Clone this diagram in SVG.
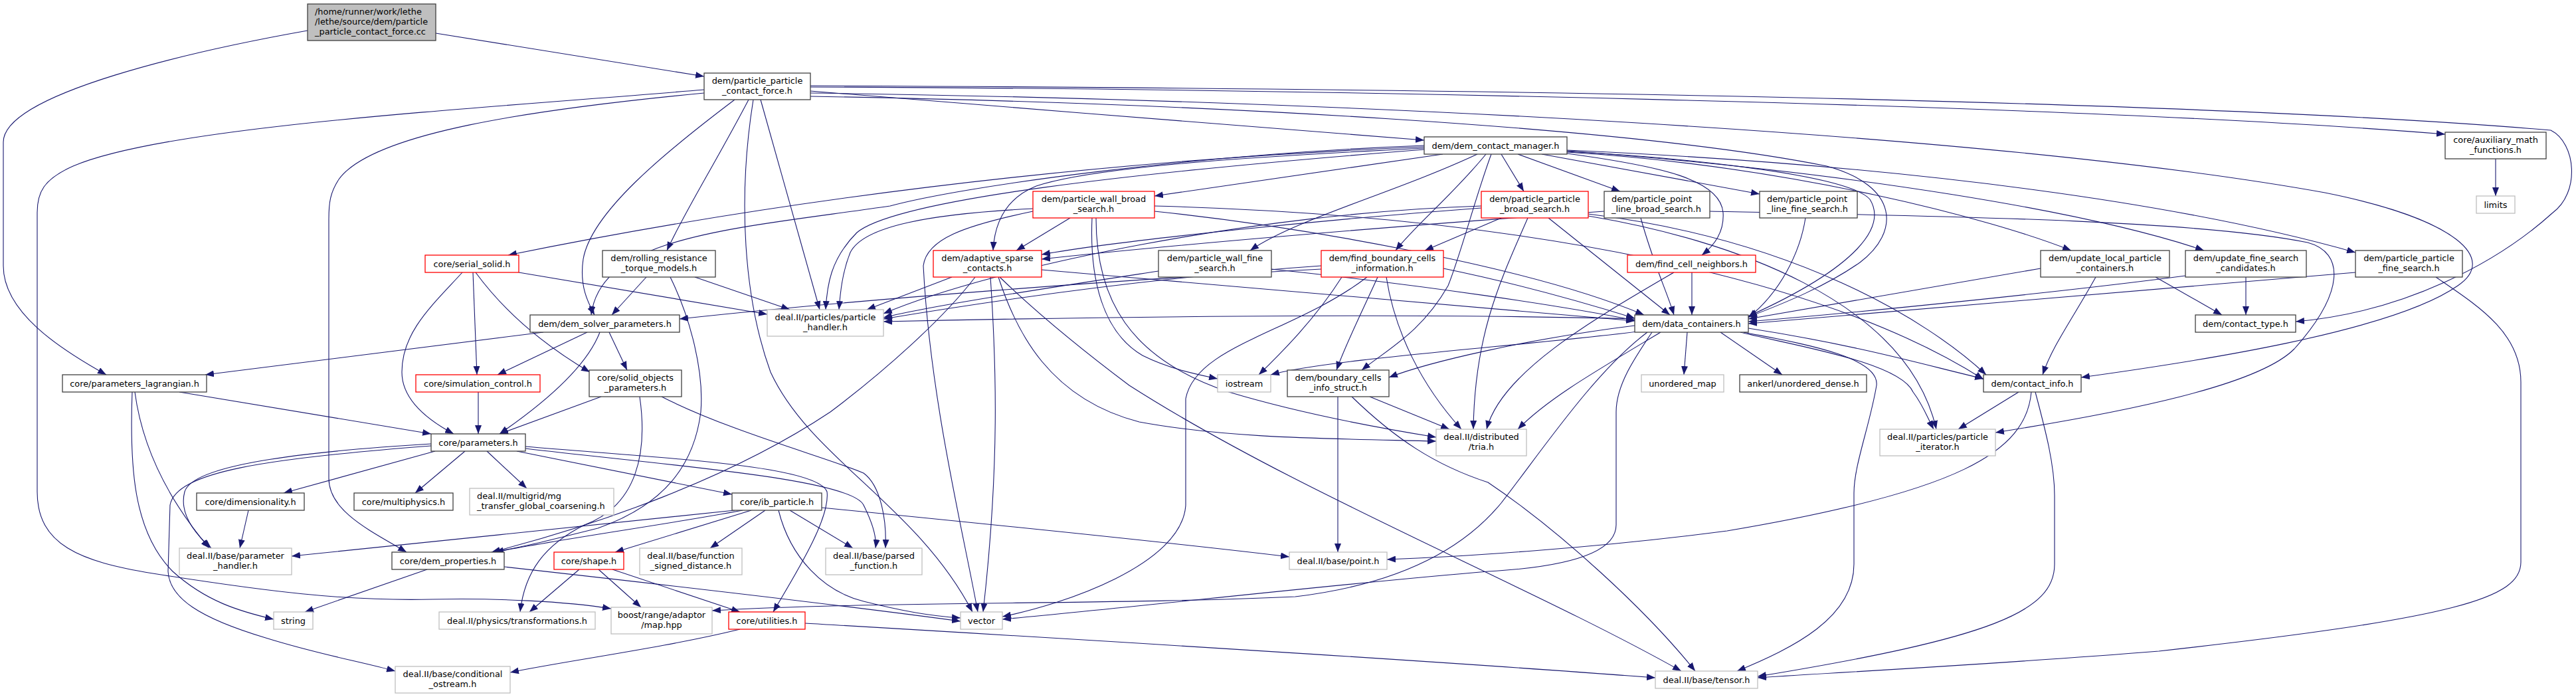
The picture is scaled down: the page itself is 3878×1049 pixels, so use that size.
<svg xmlns="http://www.w3.org/2000/svg" width="3878" height="1049" viewBox="0 0 3878 1049">
<style>
.nd rect{fill:#fff;stroke:#404040;stroke-width:1.3}
.nd.r rect{stroke:#ff0000}
.nd.g rect{stroke:#bfbfbf}
.nd.root rect{fill:#bfbfbf}
text{font-family:"DejaVu Sans","Liberation Sans",sans-serif;font-size:12.9px;fill:#000}
.c{text-anchor:middle}
#edges path{fill:none;stroke:#191970;stroke-width:1.1;marker-end:url(#a)}
</style>
<defs>
<marker id="a" markerWidth="13" markerHeight="10" refX="13" refY="5" orient="auto" markerUnits="userSpaceOnUse"><path d="M0,0 L13,5 L0,10 z" fill="#191970"/></marker>
</defs>
<rect width="3878" height="1049" fill="#fff"/>
<g id="edges">
<path d="M656,50 L1060,115"/>
<path d="M463,46 C300,75 5,140 5,214 L5,400 C5,470 90,525 160,564"/>
<path d="M1220,137 C1500,160 1900,192 2144,211"/>
<path d="M1220,131 C1900,133 3100,155 3681,202"/>
<path d="M1220,129 C2200,133 3300,150 3840,196 C3878,215 3885,290 3842,321 C3760,395 3620,470 3456,484"/>
<path d="M1220,140 C2000,150 3000,200 3500,290 C3700,330 3760,390 3700,430 C3600,500 3300,545 3133,568"/>
<path d="M1220,145 C1800,155 2450,190 2750,250 C2860,280 2860,350 2800,395 C2750,430 2690,455 2632,477"/>
<path d="M1106,150 C1000,230 890,320 878,390 C872,430 885,455 895,474"/>
<path d="M1127,150 C1080,240 1030,320 1004,377"/>
<path d="M1134,150 C1110,300 1120,450 1160,560 C1220,690 1380,760 1464,921"/>
<path d="M1145,150 L1234,466"/>
<path d="M1060,135 C700,165 250,190 110,250 C65,270 56,290 56,320 L56,740 C56,820 120,845 230,863 C400,890 520,905 650,902 C750,900 850,905 920,916"/>
<path d="M1060,140 C800,165 560,200 510,270 C497,290 495,305 495,330 L495,720 C495,770 560,800 612,831"/>
<path d="M2144,221 C1800,235 1300,275 765,384"/>
<path d="M2144,223 C1900,235 1650,250 1560,280 C1510,300 1497,340 1495,377"/>
<path d="M2144,219 C1800,232 1450,280 1340,310 C1100,345 905,355 890,474"/>
<path d="M2172,232 L1738,295"/>
<path d="M2224,232 C2100,290 1950,330 1882,377"/>
<path d="M2237,232 C2190,290 2130,340 2101,377"/>
<path d="M2245,232 C2220,300 2200,380 2180,430 C2140,500 2090,525 2050,557"/>
<path d="M2260,232 L2294,288"/>
<path d="M2285,232 L2439,288"/>
<path d="M2321,232 L2649,292"/>
<path d="M2359,231 C2500,250 2590,270 2594,320 C2596,350 2580,370 2562,384"/>
<path d="M2359,228 C2500,235 2780,260 2815,300 C2840,340 2800,400 2632,476"/>
<path d="M2359,229 C2700,250 3000,330 3118,377"/>
<path d="M2359,227 C2800,260 3150,320 3318,377"/>
<path d="M2359,226 C2900,250 3300,310 3546,380"/>
<path d="M2144,225 C1700,260 1350,300 1290,350 C1250,390 1245,430 1243,466"/>
<path d="M712,410 L718,564"/>
<path d="M716,410 C760,470 820,520 888,560"/>
<path d="M696,410 C650,460 605,500 605,560 C605,600 640,630 683,653"/>
<path d="M781,410 L1155,473"/>
<path d="M973,417 L921,474"/>
<path d="M1046,417 L1189,466"/>
<path d="M1009,417 C1040,480 1060,560 1055,620 C1045,700 1000,760 900,795 C820,815 780,825 740,831"/>
<path d="M818,500 L309,564"/>
<path d="M884,500 L749,564"/>
<path d="M903,500 C880,560 800,620 752,653"/>
<path d="M917,500 L944,557"/>
<path d="M270,590 L649,653"/>
<path d="M203,590 C215,680 260,760 315,825"/>
<path d="M199,590 C195,700 200,800 260,860 C310,905 360,920 412,932"/>
<path d="M720,590 L720,653"/>
<path d="M905,597 L752,653"/>
<path d="M996,597 C1100,650 1250,690 1300,712 C1325,730 1335,780 1333,825"/>
<path d="M963,597 C975,680 960,760 880,790 C820,820 790,860 783,921"/>
<path d="M655,679 L427,742"/>
<path d="M700,679 L625,742"/>
<path d="M733,679 L793,735"/>
<path d="M778,679 L1102,744"/>
<path d="M649,668 C450,680 290,700 278,740 C270,770 290,800 318,825"/>
<path d="M649,671 C400,690 265,710 256,760 L253,860 C255,900 300,930 400,960 C480,985 540,995 595,1010"/>
<path d="M791,672 C1000,690 1230,700 1245,740 C1250,780 1200,860 1164,921"/>
<path d="M791,675 C1000,700 1280,720 1300,760 C1315,790 1320,810 1318,825"/>
<path d="M374,768 L361,825"/>
<path d="M1131,768 L926,831"/>
<path d="M1152,768 L1069,825"/>
<path d="M1189,768 L1284,825"/>
<path d="M1237,764 C1500,790 1750,815 1941,838"/>
<path d="M1172,768 C1190,840 1240,890 1300,905 C1360,920 1400,927 1446,930"/>
<path d="M1118,768 C1000,790 850,810 745,831"/>
<path d="M1106,768 C900,790 650,815 439,837"/>
<path d="M872,857 L797,921"/>
<path d="M901,857 L965,914"/>
<path d="M922,857 L1114,921"/>
<path d="M643,857 L459,921"/>
<path d="M759,853 C1000,880 1300,915 1446,935"/>
<path d="M1114,947 C1000,975 850,995 768,1012"/>
<path d="M1212,938 C1500,955 2100,990 2492,1020"/>
<path d="M2062,597 L2182,646"/>
<path d="M2014,597 L2014,831"/>
<path d="M2035,597 C2100,660 2160,700 2240,726 C2350,800 2480,920 2552,1010"/>
<path d="M2461,490 C2300,510 2150,545 2091,568"/>
<path d="M2465,499 C2300,520 2000,540 1913,564"/>
<path d="M2540,500 L2535,564"/>
<path d="M2590,500 L2683,564"/>
<path d="M2632,494 C2800,520 2900,550 2986,570"/>
<path d="M2620,500 C2700,520 2860,545 2880,590 C2895,610 2900,625 2911,646"/>
<path d="M2500,500 C2400,560 2330,600 2285,646"/>
<path d="M2625,500 C2700,515 2830,535 2825,580 C2815,640 2791,700 2791,742 L2791,849 C2791,930 2700,975 2615,1010"/>
<path d="M2487,500 C2460,540 2433,580 2433,620 L2433,790 C2433,840 2330,855 2240,860 C2000,880 1700,915 1509,932"/>
<path d="M2480,500 C2400,560 2320,680 2260,757 C2200,830 2100,880 1950,898 C1700,910 1300,905 1072,919"/>
<path d="M2461,480 C2100,470 1600,478 1330,484"/>
<path d="M3039,590 L2948,646"/>
<path d="M3058,590 C3050,680 2950,740 2600,799 C2400,825 2200,838 2088,842"/>
<path d="M3064,590 C3080,650 3093,700 3093,746 L3093,849 C3093,920 3000,960 2646,1018"/>
<path d="M1433,417 L1305,466"/>
<path d="M1468,417 C1420,480 1330,560 1250,620 C1100,720 900,790 740,831"/>
<path d="M1491,417 C1500,550 1505,700 1480,921"/>
<path d="M1503,417 C1530,500 1580,600 1715,635 C1850,660 2000,660 2162,664"/>
<path d="M1505,417 C1560,470 1620,520 1700,580 C1950,740 2300,880 2531,1010"/>
<path d="M1568,406 C1900,435 2250,465 2461,483"/>
<path d="M1611,328 L1530,377"/>
<path d="M1555,314 C1400,322 1300,340 1280,380 C1268,410 1265,440 1263,466"/>
<path d="M1738,318 C1950,340 2300,400 2475,474"/>
<path d="M1738,310 C2300,325 2750,420 2986,571"/>
<path d="M1555,318 C1450,340 1395,360 1390,400 C1400,600 1450,800 1472,921"/>
<path d="M1644,328 C1640,420 1660,500 1720,535 C1760,555 1800,563 1833,570"/>
<path d="M1650,328 C1650,450 1700,540 1850,590 C1950,620 2050,640 2162,658"/>
<path d="M1744,408 C1600,430 1400,460 1330,478"/>
<path d="M1914,405 C2150,430 2350,460 2461,482"/>
<path d="M2074,417 C2050,470 2025,520 2012,557"/>
<path d="M2087,417 C2100,500 2140,580 2200,646"/>
<path d="M2058,417 C1950,500 1800,520 1785,600 L1785,760 C1780,850 1600,910 1509,928"/>
<path d="M2173,404 C2300,430 2400,460 2461,479"/>
<path d="M2020,417 C1980,480 1930,530 1895,564"/>
<path d="M1989,400 C1700,420 1450,460 1330,480"/>
<path d="M1989,405 C1700,420 1300,450 1023,480"/>
<path d="M2260,328 L2145,377"/>
<path d="M2331,328 L2514,474"/>
<path d="M2230,313 C2000,330 1700,360 1568,383"/>
<path d="M2230,310 C1900,320 1500,400 1330,472"/>
<path d="M2300,328 C2260,420 2220,500 2218,646"/>
<path d="M2391,322 C2700,360 2900,480 2990,564"/>
<path d="M2391,325 C2600,360 2870,450 2915,646"/>
<path d="M2415,318 C2100,340 1750,370 1568,390"/>
<path d="M2470,328 C2490,400 2510,440 2520,474"/>
<path d="M2574,318 C2900,325 3300,330 3474,365 C3530,380 3530,440 3454,525 C3400,580 3200,620 3004,651"/>
<path d="M2718,328 C2710,380 2680,440 2632,478"/>
<path d="M2547,410 L2547,474"/>
<path d="M2520,410 C2400,480 2260,560 2238,646"/>
<path d="M3072,404 L2632,480"/>
<path d="M3245,417 L3345,474"/>
<path d="M3155,417 C3120,480 3090,520 3075,564"/>
<path d="M3381,417 L3381,474"/>
<path d="M3290,415 C3100,440 2800,470 2632,484"/>
<path d="M3546,410 C3300,430 2900,465 2632,487"/>
<path d="M3667,417 C3730,460 3795,500 3795,575 L3795,846 C3795,900 3700,930 3250,980 C3000,1000 2800,1010 2646,1020"/>
<path d="M3757,239 L3757,295"/>
</g>
<g id="n-root" class="nd root"><rect x="463" y="6" width="193" height="55"/><text x="474" y="22">/home/runner/work/lethe</text><text x="474" y="37">/lethe/source/dem/particle</text><text x="474" y="52">_particle_contact_force.cc</text></g>
<g id="n-ppcf" class="nd"><rect x="1060" y="110" width="160" height="40"/><text class="c" x="1140" y="126">dem/particle_particle</text><text class="c" x="1140" y="141">_contact_force.h</text></g>
<g id="n-dcm" class="nd"><rect x="2144" y="206" width="215" height="26"/><text class="c" x="2251.5" y="223.5">dem/dem_contact_manager.h</text></g>
<g id="n-aux" class="nd"><rect x="3681" y="199" width="152" height="40"/><text class="c" x="3757" y="215">core/auxiliary_math</text><text class="c" x="3757" y="230">_functions.h</text></g>
<g id="n-pwbs" class="nd r"><rect x="1555" y="288" width="183" height="40"/><text class="c" x="1646.5" y="304">dem/particle_wall_broad</text><text class="c" x="1646.5" y="319">_search.h</text></g>
<g id="n-ppbs" class="nd r"><rect x="2230" y="288" width="161" height="40"/><text class="c" x="2310.5" y="304">dem/particle_particle</text><text class="c" x="2310.5" y="319">_broad_search.h</text></g>
<g id="n-pplbs" class="nd"><rect x="2415" y="288" width="159" height="40"/><text x="2426" y="304">dem/particle_point</text><text x="2426" y="319">_line_broad_search.h</text></g>
<g id="n-pplfs" class="nd"><rect x="2649" y="288" width="147" height="40"/><text x="2660" y="304">dem/particle_point</text><text x="2660" y="319">_line_fine_search.h</text></g>
<g id="n-limits" class="nd g"><rect x="3728" y="295" width="58" height="26"/><text class="c" x="3757" y="312.5">limits</text></g>
<g id="n-serial" class="nd r"><rect x="640" y="384" width="141" height="26"/><text class="c" x="710.5" y="401.5">core/serial_solid.h</text></g>
<g id="n-rrtm" class="nd"><rect x="907" y="377" width="170" height="40"/><text class="c" x="992" y="393">dem/rolling_resistance</text><text class="c" x="992" y="408">_torque_models.h</text></g>
<g id="n-asc" class="nd r"><rect x="1405" y="377" width="163" height="40"/><text class="c" x="1486.5" y="393">dem/adaptive_sparse</text><text class="c" x="1486.5" y="408">_contacts.h</text></g>
<g id="n-pwfs" class="nd"><rect x="1744" y="377" width="170" height="40"/><text class="c" x="1829" y="393">dem/particle_wall_fine</text><text class="c" x="1829" y="408">_search.h</text></g>
<g id="n-fbci" class="nd r"><rect x="1989" y="377" width="184" height="40"/><text class="c" x="2081" y="393">dem/find_boundary_cells</text><text class="c" x="2081" y="408">_information.h</text></g>
<g id="n-fcn" class="nd r"><rect x="2450" y="384" width="193" height="26"/><text class="c" x="2546.5" y="401.5">dem/find_cell_neighbors.h</text></g>
<g id="n-ulpc" class="nd"><rect x="3072" y="377" width="194" height="40"/><text class="c" x="3169" y="393">dem/update_local_particle</text><text class="c" x="3169" y="408">_containers.h</text></g>
<g id="n-ufsc" class="nd"><rect x="3290" y="377" width="182" height="40"/><text class="c" x="3381" y="393">dem/update_fine_search</text><text class="c" x="3381" y="408">_candidates.h</text></g>
<g id="n-ppfs" class="nd"><rect x="3546" y="377" width="161" height="40"/><text class="c" x="3626.5" y="393">dem/particle_particle</text><text class="c" x="3626.5" y="408">_fine_search.h</text></g>
<g id="n-dsp" class="nd"><rect x="798" y="474" width="225" height="26"/><text class="c" x="910.5" y="491.5">dem/dem_solver_parameters.h</text></g>
<g id="n-ph" class="nd g"><rect x="1155" y="466" width="175" height="40"/><text class="c" x="1242.5" y="482">deal.II/particles/particle</text><text class="c" x="1242.5" y="497">_handler.h</text></g>
<g id="n-dc" class="nd"><rect x="2461" y="474" width="171" height="26"/><text class="c" x="2546.5" y="491.5">dem/data_containers.h</text></g>
<g id="n-ct" class="nd"><rect x="3305" y="474" width="151" height="26"/><text class="c" x="3380.5" y="491.5">dem/contact_type.h</text></g>
<g id="n-pl" class="nd"><rect x="94" y="564" width="217" height="26"/><text class="c" x="202.5" y="581.5">core/parameters_lagrangian.h</text></g>
<g id="n-sc" class="nd r"><rect x="626" y="564" width="187" height="26"/><text class="c" x="719.5" y="581.5">core/simulation_control.h</text></g>
<g id="n-sop" class="nd"><rect x="887" y="557" width="139" height="40"/><text class="c" x="956.5" y="573">core/solid_objects</text><text class="c" x="956.5" y="588">_parameters.h</text></g>
<g id="n-ios" class="nd g"><rect x="1833" y="564" width="80" height="26"/><text class="c" x="1873" y="581.5">iostream</text></g>
<g id="n-bcis" class="nd"><rect x="1938" y="557" width="153" height="40"/><text class="c" x="2014.5" y="573">dem/boundary_cells</text><text class="c" x="2014.5" y="588">_info_struct.h</text></g>
<g id="n-umap" class="nd g"><rect x="2471" y="564" width="124" height="26"/><text class="c" x="2533" y="581.5">unordered_map</text></g>
<g id="n-ankerl" class="nd"><rect x="2619" y="564" width="191" height="26"/><text class="c" x="2714.5" y="581.5">ankerl/unordered_dense.h</text></g>
<g id="n-ci" class="nd"><rect x="2986" y="564" width="147" height="26"/><text class="c" x="3059.5" y="581.5">dem/contact_info.h</text></g>
<g id="n-params" class="nd"><rect x="649" y="653" width="142" height="26"/><text class="c" x="720" y="670.5">core/parameters.h</text></g>
<g id="n-tria" class="nd g"><rect x="2162" y="646" width="136" height="40"/><text class="c" x="2230" y="662">deal.II/distributed</text><text class="c" x="2230" y="677">/tria.h</text></g>
<g id="n-piter" class="nd g"><rect x="2830" y="646" width="174" height="40"/><text class="c" x="2917" y="662">deal.II/particles/particle</text><text class="c" x="2917" y="677">_iterator.h</text></g>
<g id="n-dim" class="nd"><rect x="296" y="742" width="162" height="26"/><text class="c" x="377" y="759.5">core/dimensionality.h</text></g>
<g id="n-multi" class="nd"><rect x="533" y="742" width="149" height="26"/><text class="c" x="607.5" y="759.5">core/multiphysics.h</text></g>
<g id="n-mg" class="nd g"><rect x="707" y="735" width="217" height="40"/><text x="718" y="751">deal.II/multigrid/mg</text><text x="718" y="766">_transfer_global_coarsening.h</text></g>
<g id="n-ib" class="nd"><rect x="1102" y="742" width="135" height="26"/><text class="c" x="1169.5" y="759.5">core/ib_particle.h</text></g>
<g id="n-phd" class="nd g"><rect x="270" y="825" width="169" height="40"/><text class="c" x="354.5" y="841">deal.II/base/parameter</text><text class="c" x="354.5" y="856">_handler.h</text></g>
<g id="n-dp" class="nd"><rect x="590" y="831" width="169" height="26"/><text class="c" x="674.5" y="848.5">core/dem_properties.h</text></g>
<g id="n-shape" class="nd r"><rect x="834" y="831" width="105" height="26"/><text class="c" x="886.5" y="848.5">core/shape.h</text></g>
<g id="n-fsd" class="nd g"><rect x="963" y="825" width="154" height="40"/><text class="c" x="1040" y="841">deal.II/base/function</text><text class="c" x="1040" y="856">_signed_distance.h</text></g>
<g id="n-pf" class="nd g"><rect x="1243" y="825" width="145" height="40"/><text class="c" x="1315.5" y="841">deal.II/base/parsed</text><text class="c" x="1315.5" y="856">_function.h</text></g>
<g id="n-point" class="nd g"><rect x="1941" y="831" width="147" height="26"/><text class="c" x="2014.5" y="848.5">deal.II/base/point.h</text></g>
<g id="n-string" class="nd g"><rect x="412" y="921" width="59" height="26"/><text class="c" x="441.5" y="938.5">string</text></g>
<g id="n-transf" class="nd g"><rect x="661" y="921" width="235" height="26"/><text class="c" x="778.5" y="938.5">deal.II/physics/transformations.h</text></g>
<g id="n-boost" class="nd g"><rect x="920" y="914" width="152" height="40"/><text class="c" x="996" y="930">boost/range/adaptor</text><text class="c" x="996" y="945">/map.hpp</text></g>
<g id="n-util" class="nd r"><rect x="1097" y="921" width="115" height="26"/><text class="c" x="1154.5" y="938.5">core/utilities.h</text></g>
<g id="n-vector" class="nd g"><rect x="1446" y="921" width="63" height="26"/><text class="c" x="1477.5" y="938.5">vector</text></g>
<g id="n-cond" class="nd g"><rect x="595" y="1003" width="173" height="40"/><text class="c" x="681.5" y="1019">deal.II/base/conditional</text><text class="c" x="681.5" y="1034">_ostream.h</text></g>
<g id="n-tensor" class="nd g"><rect x="2492" y="1010" width="154" height="26"/><text class="c" x="2569" y="1027.5">deal.II/base/tensor.h</text></g>
</svg>
